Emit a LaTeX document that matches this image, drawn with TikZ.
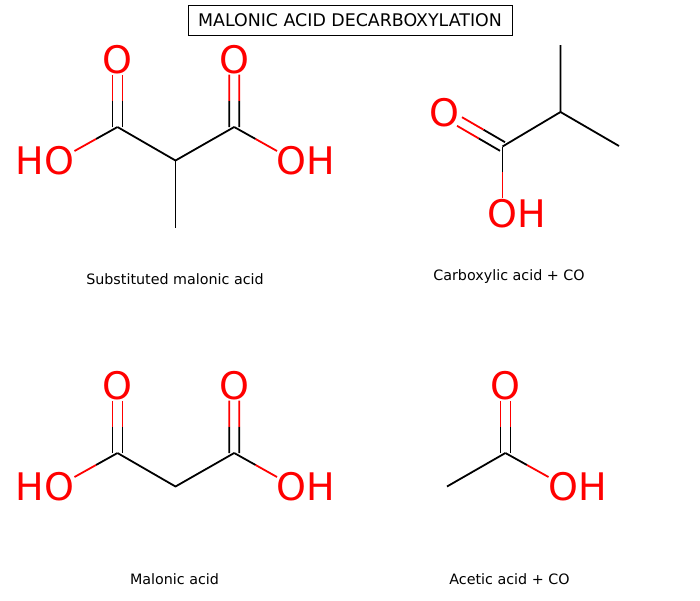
\documentclass[tikz,border=0pt]{standalone}
\usepackage{fontspec}
\setmainfont{DejaVu Sans}
\usepackage{tikz}
\usetikzlibrary{calc}
\usetikzlibrary{positioning}

% Bond coloured half black, half red; args: carbon, oxygen end
\newcommand{\halfbond}[2]{
	\draw[bond line] (#1)--($(#1)!.5!(#2)$);
	\draw[bond line,red] ($(#1)!.5!(#2)$)--(#2);
}
% Double bond; args: carbon, oxygen end, half gap in x and y
\newcommand{\doublebond}[4]{
	\foreach \s in {1,-1}{
		\draw[bond line] ($(#1)+({\s*#3},{\s*#4})$)--($(#1)!.5!(#2)+({\s*#3},{\s*#4})$);
		\draw[bond line,red] ($(#1)!.5!(#2)+({\s*#3},{\s*#4})$)--($(#2)+({\s*#3},{\s*#4})$);
	}
}

\begin{document}
\begin{tikzpicture}
		[
		x=1pt,y=-1pt,
		font=\fontsize{14.3}{16}\selectfont
		]
		
		% Three node styles: atom, caption and title
		\tikzstyle{atom node}=[text=red,inner sep=0,font=\fontsize{38}{40}\selectfont];
		\tikzstyle{caption node}=[inner sep=0];
		\tikzstyle{title node}=[draw,line width=1,minimum width=324,minimum height=30,inner sep=0,font=\fontsize{17.4}{19}\selectfont];
		\tikzstyle{bond line}=[line width=1.8];
		
		\useasboundingbox(0,0)rectangle(700,600);
		
		% Title
		\node(title)[title node]at(350,20){MALONIC ACID DECARBOXYLATION};
		
		% Substituted malonic acid
		\coordinate(a1)at(117.5,127);
		\coordinate(a2)at(175.5,160.5);
		\coordinate(a3)at(234.2,127);
		\coordinate(a4)at(175.5,227.5);
		\coordinate(a5)at(74.5,151);
		\coordinate(a6)at(277,151);
		\node(a-o1)[atom node]at(117.5,60){O};
		\node(a-o2)[atom node]at(234.2,60){O};
		\node(a-oh1)[atom node]at(45,160.5){HO};
		\node(a-oh2)[atom node]at(306,160.5){OH};
		\draw[bond line,line join=round](a1)--(a2)--(a3);
		\draw[bond line](a2)--(a4);
		\doublebond{a1}{a-o1.south}{5}{0}
		\doublebond{a3}{a-o2.south}{5}{0}
		\halfbond{a1}{a5}
		\halfbond{a3}{a6}
		\node(a-name)[caption node]at(175,279){Substituted malonic acid};
		
		% Carboxylic acid + CO
		\coordinate(b1)at(502.5,146.5);
		\coordinate(b2)at(560.5,112);
		\coordinate(b3)at(560.5,45);
		\coordinate(b4)at(619,146);
		\coordinate(b5)at(459.5,121.5);
		\node(b-o1)[atom node]at(444.5,113){O};
		\node(b-oh1)[atom node]at(517,214){OH};
		\draw[bond line,line join=round](b1)--(b2)--(b3);
		\draw[bond line](b2)--(b4);
		\doublebond{b1}{b5}{2.5}{-4.3}
		\halfbond{b1}{$(b-oh1.north)+(-14.5,-1)$}
		\node(b-name)[caption node]at(509,276.5){Carboxylic acid + CO};
		
		% Malonic acid
		\coordinate(c1)at(117.5,453);
		\coordinate(c2)at(175.5,486.5);
		\coordinate(c3)at(234.2,453);
		\coordinate(c5)at(74.5,477);
		\coordinate(c6)at(277,477);
		\node(c-o1)[atom node]at(117.5,386){O};
		\node(c-o2)[atom node]at(234.2,386){O};
		\node(c-oh1)[atom node]at(45,486.5){HO};
		\node(c-oh2)[atom node]at(306,486.5){OH};
		\draw[bond line,line join=round](c1)--(c2)--(c3);
		\doublebond{c1}{c-o1.south}{5}{0}
		\doublebond{c3}{c-o2.south}{5}{0}
		\halfbond{c1}{c5}
		\halfbond{c3}{c6}
		\node(c-name)[caption node]at(174.5,579){Malonic acid};
		
		% Acetic acid + CO
		\coordinate(d1)at(505.4,453);
		\coordinate(d2)at(447,486.5);
		\coordinate(d5)at(548.5,477);
		\node(d-o1)[atom node]at(505.4,386){O};
		\node(d-oh1)[atom node]at(577.5,486.5){OH};
		\draw[bond line](d1)--(d2);
		\doublebond{d1}{d-o1.south}{5}{0}
		\halfbond{d1}{d5}
		\node(d-name)[caption node]at(509.5,579){Acetic acid + CO};
\end{tikzpicture}
\end{document}
